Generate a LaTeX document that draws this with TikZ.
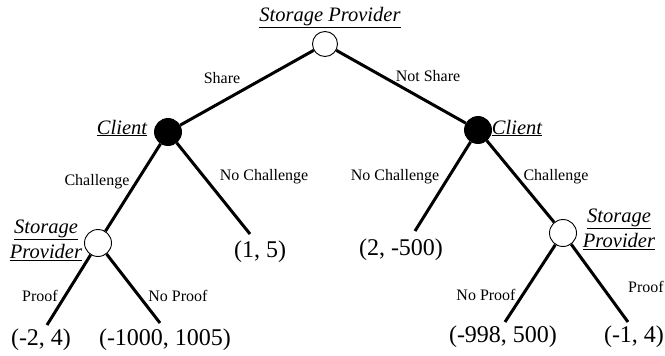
\documentclass[tikz,border=0pt]{standalone}
\usepackage{fontspec}
\setmainfont{Liberation Serif}

\tikzset{
	chance/.style={circle, draw, fill=white, line width=0.9pt, minimum size=27pt, inner sep=0pt},
	player/.style={chance, fill=black},
	branch/.style={line width=3pt},
	who/.style={font=\fontsize{20.5}{25}\selectfont\itshape, align=center, inner sep=1pt},
	move/.style={font=\fontsize{16}{19}\selectfont, inner sep=1pt},
	payoff/.style={font=\fontsize{24}{28}\selectfont, inner sep=1pt}
}

\begin{document}
\begin{tikzpicture}[x=1pt, y=-1pt]
			%%%%% START %%%%%
			\useasboundingbox (0, 0) rectangle (665, 356);
			
			\node[chance, minimum size=25pt] (sp) at (325, 44) {};
			\node[player] (cl) at (168, 132) {};
			\node[player] (cr) at (478, 130) {};
			\node[chance] (spl) at (98, 243) {};
			\node[chance] (spr) at (563, 233) {};
			
			\coordinate (e15) at (250, 234);
			\coordinate (e2500) at (415, 231);
			\coordinate (e24) at (47, 325);
			\coordinate (e1000) at (160, 323);
			\coordinate (e998) at (505, 322);
			\coordinate (e14) at (628, 322);
			
			\draw[branch] (sp) -- (cl);
			\draw[branch] (sp) -- (cr);
			\draw[branch] (cl) -- (spl);
			\draw[branch] (cl) -- (e15);
			\draw[branch] (cr) -- (e2500);
			\draw[branch] (cr) -- (spr);
			\draw[branch] (spl) -- (e24);
			\draw[branch] (spl) -- (e1000);
			\draw[branch] (spr) -- (e998);
			\draw[branch] (spr) -- (e14);
			
			% players
			\node[who] (lsp) at (330, 18) {\underline{Storage Provider}};
			\node[who] (lcl) at (122, 128) {\underline{Client}};
			\node[who] (lcr) at (517, 128) {\underline{Client}};
			\node[who] (lspl) at (46, 240) {\underline{Storage}\\\underline{Provider}};
			\node[who] (lspr) at (619, 229) {\underline{Storage}\\\underline{Provider}};
			
			% moves
			\node[move] (mshare) at (222, 78) {Share};
			\node[move] (mnot) at (428, 76) {Not Share};
			\node[move] (mchl) at (97, 182) {Challenge};
			\node[move] (mnochl) at (264, 177) {No Challenge};
			\node[move] (mnochr) at (395, 177) {No Challenge};
			\node[move] (mchr) at (556, 177) {Challenge};
			\node[move] (mprl) at (40, 296) {Proof};
			\node[move] (mnoprl) at (178, 296) {No Proof};
			\node[move] (mnoprr) at (486, 295) {No Proof};
			\node[move] (mprr) at (646, 287) {Proof};
			
			% payoffs
			\node[payoff] (p15) at (260, 252) {(1, 5)};
			\node[payoff] (p2500) at (401, 250) {(2, -500)};
			\node[payoff] (p24) at (41, 340) {(-2, 4)};
			\node[payoff] (p1000) at (165, 340) {(-1000, 1005)};
			\node[payoff] (p998) at (503, 337) {(-998, 500)};
			\node[payoff] (p14) at (634, 337) {(-1, 4)};
			%%%%% END %%%%%
\end{tikzpicture}
\end{document}
